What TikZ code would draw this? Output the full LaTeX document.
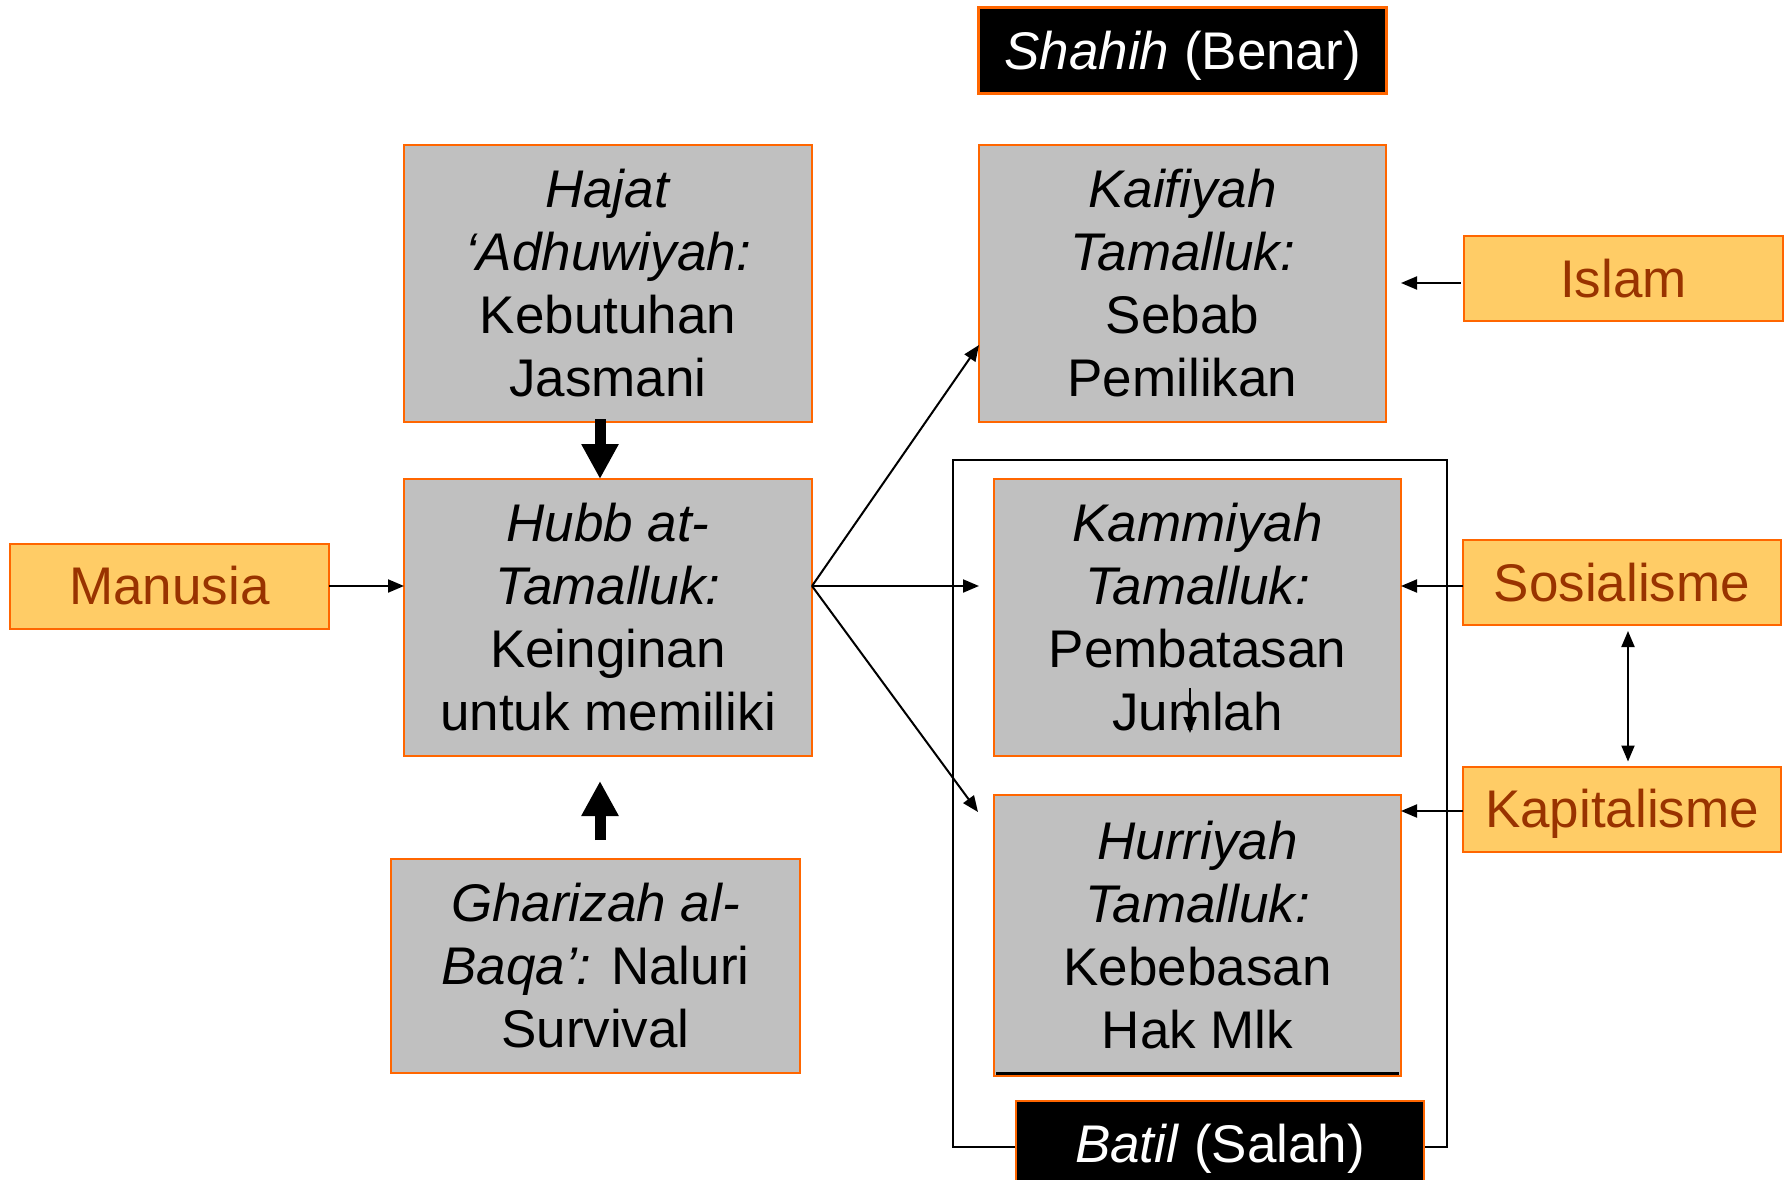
\documentclass[tikz,border=0pt]{standalone}
\usepackage{fontspec}
\setmainfont{Liberation Sans}
\usetikzlibrary{arrows.meta,calc}
\definecolor{boxgray}{HTML}{C0C0C0}
\definecolor{edgeorange}{HTML}{FF6600}
\definecolor{ideafill}{HTML}{FFCC66}
\definecolor{ideatext}{HTML}{993300}

\begin{document}
\begin{tikzpicture}[x=1pt,y=-1pt,
  every node/.style={inner sep=0pt, outer sep=0pt},
  bigfont/.style={font=\fontsize{53}{63}\selectfont},
  concept/.style={bigfont, draw=edgeorange, line width=2pt, fill=boxgray,
    align=center, text=black, minimum width=408pt},
  ideology/.style={bigfont, draw=edgeorange, line width=2pt, fill=ideafill,
    text=ideatext, minimum width=318pt, minimum height=85pt,
    text height=37.5pt, text depth=0pt},
  verdict/.style={bigfont, draw=edgeorange, line width=2.5pt, fill=black,
    text=white, minimum width=408pt, minimum height=86pt,
    text height=37.5pt, text depth=0pt},
  link/.style={line width=2pt, -{Triangle[length=16pt,width=13pt]}},
  twoway/.style={line width=2pt, {Triangle[length=16pt,width=13pt]}-{Triangle[length=16pt,width=13pt]}},
  bigarrow/.style={line width=11pt, -{Triangle[length=35pt,width=35pt]}},
]
% canvas
\fill[white] (0,0) rectangle (1789,1180);
\useasboundingbox (0,0) rectangle (1789,1180);

% frame around the false concepts
\draw[line width=2pt] (953,460) rectangle (1447,1147);

% left column
\node[concept, minimum height=277pt] (hajat) at (608,283.5)
  {\textit{Hajat}\\\textit{‘Adhuwiyah:}\\Kebutuhan\\Jasmani};
\node[concept, minimum height=277pt] (hubb) at (608,617.5)
  {\textit{Hubb at-}\\\textit{Tamalluk:}\\Keinginan\\untuk memiliki};
\node[concept, minimum width=409pt, minimum height=214pt] (gharizah) at (595.5,966)
  {\textit{Gharizah al-}\\\textit{Baqa’:} Naluri\\Survival};
\node[ideology, minimum width=319pt] (manusia) at (169.5,586) {Manusia};

% right column
\node[verdict] (shahih) at (1182.5,50.5) {\textit{Shahih} (Benar)};
\node[concept, minimum width=407pt, minimum height=277pt] (kaif) at (1182.5,283.5)
  {\textit{Kaifiyah}\\\textit{Tamalluk:}\\Sebab\\Pemilikan};
\node[concept, minimum width=407pt, minimum height=277pt] (kamm) at (1197.5,617.5)
  {\textit{Kammiyah}\\\textit{Tamalluk:}\\Pembatasan\\Jumlah};
\node[concept, minimum width=407pt, minimum height=281pt] (hurr) at (1197.5,935.5)
  {\textit{Hurriyah}\\\textit{Tamalluk:}\\Kebebasan\\Hak Mlk};
\draw[line width=3pt] ($(hurr.south west)+(2,-3)$) -- ($(hurr.south east)+(-2,-3)$);
\node[verdict] (batil) at (1220,1144) {\textit{Batil} (Salah)};

% ideologies
\node[ideology, minimum width=319pt] (islam) at (1623.5,278.5) {Islam};
\node[ideology] (sosial) at (1622,582.5) {Sosialisme};
\node[ideology] (kapital) at (1622,809) {Kapitalisme};

% connector end points
\coordinate (hubbIn) at (hubb.west |- manusia.east);
\coordinate (hubbOut) at (hubb.east |- manusia.east);
\coordinate (toKaif) at (979,345);
\coordinate (toKamm) at (979,586);
\coordinate (toHurr) at (978,812);
\coordinate (islamOut) at (1461,283);
\coordinate (islamIn) at (1401,283);
\coordinate (sosOut) at (sosial.west |- manusia.east);
\coordinate (sosIn) at (kamm.east |- manusia.east);
\coordinate (kapOut) at (1463,811);
\coordinate (kapIn) at (1401,811);
\coordinate (markTop) at (1190,688);
\coordinate (markEnd) at (1190,733);
\coordinate (hajatFoot) at (600,419);
\coordinate (hubbHead) at (600,479);
\coordinate (gharTop) at (600,840);
\coordinate (hubbFoot) at (600,781);

% thick arrows into the desire to own
\draw[bigarrow] (hajatFoot) -- (hubbHead);
\draw[bigarrow] (gharTop) -- (hubbFoot);

% thin connectors
\draw[link] (manusia.east) -- (hubbIn);
\draw[link] (hubbOut) -- (toKaif);
\draw[link] (hubbOut) -- (toKamm);
\draw[link] (hubbOut) -- (toHurr);
\draw[link] (islamOut) -- (islamIn);
\draw[link] (sosOut) -- (sosIn);
\draw[link] (kapOut) -- (kapIn);
\draw[twoway, shorten <=6pt, shorten >=5pt] ($(sosial.south)+(6,0)$) -- ($(kapital.north)+(6,0)$);
\draw[link] (markTop) -- (markEnd);
\end{tikzpicture}
\end{document}
